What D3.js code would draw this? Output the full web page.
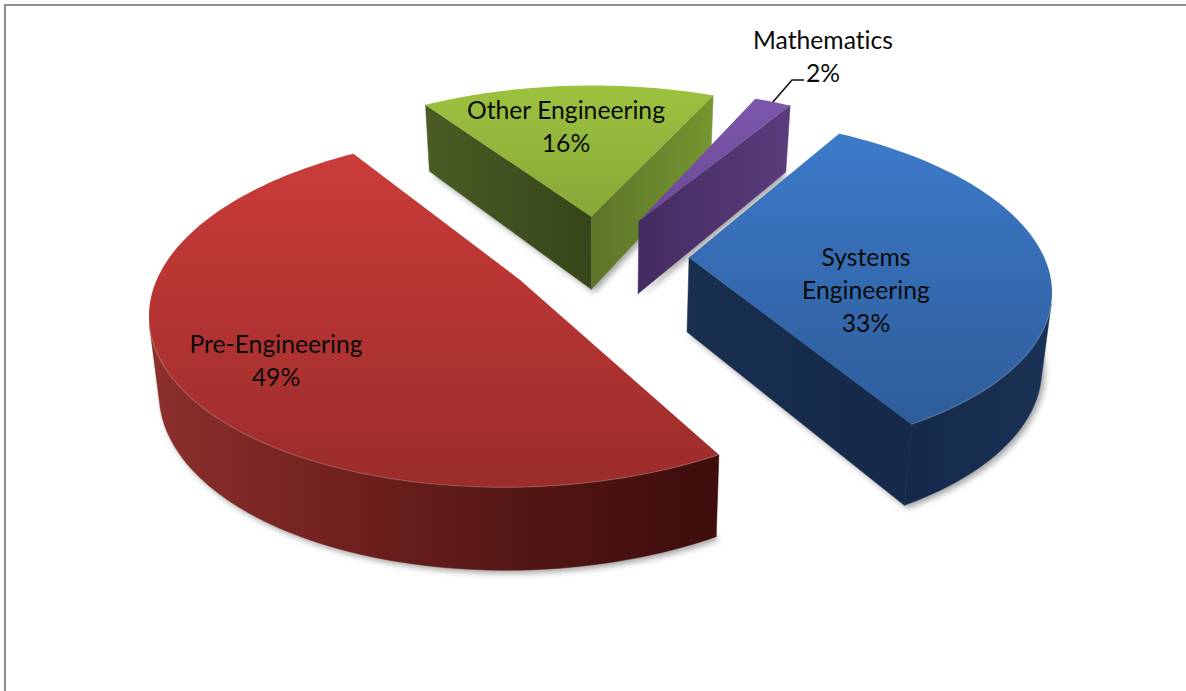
<!DOCTYPE html>
<html>
<head>
<meta charset="utf-8">
<script src="https://cdn.jsdelivr.net/npm/d3@7/dist/d3.min.js"></script>
<style>
  html, body { margin: 0; padding: 0; background: #fff; }
  svg { display: block; }
  text { font-family: Lato, "Open Sans", sans-serif; font-size: 24.7px; fill: #0a0a0a; text-anchor: middle; font-variant-ligatures: none; }
</style>
</head>
<body>
<svg id="chart" width="1186" height="691"></svg>
<script>
// Enrolment share by programme, clockwise from the front-right edge of the pie.
const categories = ["Pre-Engineering", "Other Engineering", "Mathematics", "Systems Engineering"];
const shares = [49, 16, 2, 33];
const labelLines = [["Pre-Engineering"], ["Other Engineering"], ["Mathematics"], ["Systems", "Engineering"]];

// Top-face gradient colours (far, near).
const topColors = [["#ca3c39", "#9b2c2a"], ["#9dc23f", "#86a837"], ["#7c56ab", "#6d4a98"], ["#3c7ac9", "#2e5c99"]];
// Side colours per slice: leading radial wall, curved rim, trailing radial wall (left to right).
const wallColors = [
  [["#8c302c", "#3e0d0c"], ["#8c302c", "#71211f", "#521614", "#3e0d0c"], ["#8c302c", "#3e0d0c"]],
  [["#4a5c24", "#37451a"], ["#4a5c24", "#37451a"], ["#5c7529", "#76962f"]],
  [["#432c60", "#5a3c7c"], ["#432c60", "#5a3c7c"], ["#432c60", "#5a3c7c"]],
  [["#182f50", "#15294a"], ["#15294a", "#1a3255"], ["#182f50", "#15294a"]]
];

// Label anchors: centre x and first baseline y for each pie label.
const labelAnchors = [[276, 353], [566, 119], [823, 49], [866, 266]];
const lineStep = 33;

const width = 1186, height = 691;
const view = { cx: 598.5, cy: 257, rx: 355, ry: 165, depth: 74.5, depthGrowth: 0.1, perspective: 0.165, taper: 0.0225, explode: 0.255 };
const startAngle = 150 * Math.PI / 180;

const svg = d3.select("#chart");
const defs = svg.append("defs");
defs.append("filter").attr("id", "soft").attr("x", "-10%").attr("y", "-10%").attr("width", "120%").attr("height", "120%")
  .append("feGaussianBlur").attr("stdDeviation", 3);

// Chart-area frame: only its top and left edges fall inside the canvas.
svg.append("path").attr("d", d3.line()([[5, height], [5, 5], [width, 5]]))
  .attr("fill", "none").attr("stroke", "#8e8e8e").attr("stroke-width", 2);

const pie = d3.pie().value(d => d).sort(null).startAngle(startAngle).endAngle(startAngle + 2 * Math.PI);
const arcs = pie(shares);

// Perspective projection of a point on the pie disc (z = 0 top face, z = 1 bottom face).
function project(X, Y, z) {
  const s = 1 / (1 - view.perspective * Y);
  const t = 1 - view.taper * z;
  return [view.cx + s * view.rx * X * t, view.cy + s * view.ry * Y + view.depth * (1 + view.depthGrowth * Y) * z];
}

function sliceGeometry(a) {
  const mid = (a.startAngle + a.endAngle) / 2;
  const ox = view.explode * Math.sin(mid), oy = -view.explode * Math.cos(mid);
  const n = Math.max(8, Math.ceil((a.endAngle - a.startAngle) * 40));
  const rim = d3.range(n + 1).map(i => {
    const t = a.startAngle + (a.endAngle - a.startAngle) * i / n;
    return [ox + Math.sin(t), oy - Math.cos(t)];
  });
  return { apex: [ox, oy], rim };
}

const line = d3.line();
const at = (p, z) => project(p[0], p[1], z);

// A wall segment faces the viewer when its quad winds counter-clockwise on screen.
const facesViewer = (p, q) => d3.polygonArea([at(p, 0), at(q, 0), at(q, 1), at(p, 1)]) > 0;

function gradient(id, stops, x1, y1, x2, y2) {
  const g = defs.append("linearGradient").attr("id", id).attr("gradientUnits", "userSpaceOnUse")
    .attr("x1", x1).attr("y1", y1).attr("x2", x2).attr("y2", y2);
  stops.forEach((c, i) => g.append("stop").attr("offset", i / (stops.length - 1)).attr("stop-color", c));
  return `url(#${id})`;
}

// Far slices are painted first so nearer ones overlap them.
const paintOrder = [1, 2, 3, 0];

// Soft contact shadow under the whole pie.
const shadows = svg.append("g").attr("filter", "url(#soft)");
paintOrder.forEach(i => {
  const g = sliceGeometry(arcs[i]);
  const base = [g.apex, ...g.rim].map(p => at(p, 1)).map(p => [p[0] + 3, p[1] + 3]);
  shadows.append("path").attr("d", line(base) + "Z").attr("fill", "#a0a0a0");
});

paintOrder.forEach(i => {
  const g = sliceGeometry(arcs[i]);
  const group = svg.append("g").attr("class", "slice").attr("data-name", categories[i]);
  const last = g.rim[g.rim.length - 1];

  // Visible side walls only; the rim keeps just the segments turned to the viewer.
  const rimRun = [];
  g.rim.slice(1).forEach((q, j) => {
    const p = g.rim[j];
    if (!facesViewer(p, q)) return;
    if (!rimRun.length) rimRun.push(p);
    rimRun.push(q);
  });
  const faces = [
    facesViewer(g.apex, g.rim[0]) ? [g.apex, g.rim[0]] : [],
    rimRun,
    facesViewer(last, g.apex) ? [last, g.apex] : []
  ];
  faces.forEach((edge, k) => {
    if (edge.length < 2) return;
    const poly = [...edge.map(p => at(p, 0)), ...edge.map(p => at(p, 1)).reverse()];
    const x0 = d3.min(poly, p => p[0]), x1 = d3.max(poly, p => p[0]);
    const fill = gradient(`wall-${i}-${k}`, wallColors[i][k], x0, 0, x1, 0);
    group.append("path").attr("d", line(poly) + "Z").attr("fill", fill).attr("stroke", fill).attr("stroke-width", 0.5);
  });

  // Top face.
  const topPts = [g.apex, ...g.rim].map(p => at(p, 0));
  const y0 = d3.min(topPts, p => p[1]), y1 = d3.max(topPts, p => p[1]);
  group.append("path").attr("d", line(topPts) + "Z")
    .attr("fill", gradient(`top-${i}`, topColors[i], 0, y0, 0, y1));

  // Faint bevel where the top face meets the curved wall.
  if (rimRun.length > 1) {
    group.append("path").attr("d", line(rimRun.map(p => at(p, 0))))
      .attr("fill", "none").attr("stroke", "#fff").attr("stroke-opacity", 0.14).attr("stroke-width", 1.4);
  }
});

// Leader line for the smallest slice, from its rim out to its label.
const mathRim = sliceGeometry(arcs[2]).rim;
const leaderStart = at(mathRim[Math.floor(mathRim.length / 2)], 0);
svg.append("path")
  .attr("d", line([leaderStart, [792, 80], [804, 80]]))
  .attr("fill", "none").attr("stroke", "#111").attr("stroke-width", 1.6);

// Labels: category name lines followed by the percentage.
shares.forEach((v, i) => {
  const [x, y] = labelAnchors[i];
  const rows = [...labelLines[i], `${v}%`];
  const t = svg.append("text").attr("x", x).attr("y", y);
  rows.forEach((r, j) => t.append("tspan").attr("x", x).attr("dy", j ? lineStep : 0).text(r));
});
</script>
</body>
</html>
